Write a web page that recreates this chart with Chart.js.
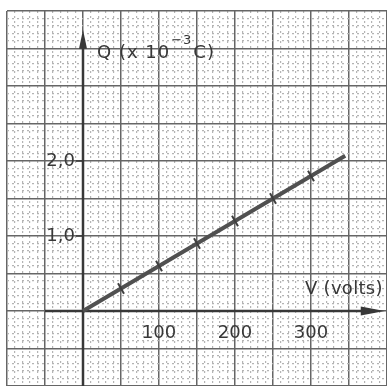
<!DOCTYPE html>
<html>
<head>
<meta charset="utf-8">
<script src="https://cdn.jsdelivr.net/npm/chart.js@4"></script>
<style>
  html, body { margin: 0; padding: 0; background: #fff; }
  canvas { display: block; }
</style>
</head>
<body>
<canvas id="qvChart" width="387" height="386"></canvas>
<script>
// charge vs voltage for a capacitor
const voltage = [0, 50, 100, 150, 200, 250, 300, 345];
const charge = [0, 0.3, 0.6, 0.9, 1.2, 1.5, 1.8, 2.07];
const marked = [false, true, true, true, true, true, true, false];

const xTickLabels = [100, 200, 300];
const yTickLabels = [1.0, 2.0];
const xTitle = 'V (volts)';
const yTitle = 'Q (x 10';
const yTitleExp = '\u22123';
const yTitleUnit = 'C)';

const ink = '#383838';
const font = '18px "DejaVu Sans"';

function gridStyle(isMajor) {
    return {
        color: ctx => isMajor(ctx.tick.value) ? '#666' : '#b4b4b4',
        lineWidth: ctx => isMajor(ctx.tick.value) ? 1.5 : 1.2,
        dash: ctx => isMajor(ctx.tick.value) ? [] : [2, 3]
    };
}

const xMajor = v => Math.round(v) % 50 === 0;
const yMajor = v => Math.round(v * 10) % 5 === 0;
const xg = gridStyle(xMajor);
const yg = gridStyle(yMajor);

// axes with arrow heads, plus the labels sitting on them
const axesPlugin = {
    id: 'axes',
    beforeDatasetsDraw(chart) {
        const { ctx, scales: { x, y }, chartArea } = chart;
        const x0 = x.getPixelForValue(0);
        const y0 = y.getPixelForValue(0);
        ctx.save();
        ctx.strokeStyle = ink;
        ctx.fillStyle = ink;
        ctx.lineWidth = 2.5;

        // vertical axis
        const yTip = y.getPixelForValue(3.75);
        ctx.beginPath();
        ctx.moveTo(x0, chartArea.bottom);
        ctx.lineTo(x0, yTip + 10);
        ctx.stroke();
        ctx.beginPath();
        ctx.moveTo(x0, yTip);
        ctx.lineTo(x0 - 4, yTip + 19);
        ctx.lineTo(x0 + 4, yTip + 19);
        ctx.closePath();
        ctx.fill();

        // horizontal axis
        const xTip = x.getPixelForValue(397);
        ctx.beginPath();
        ctx.moveTo(x.getPixelForValue(-50), y0);
        ctx.lineTo(xTip - 10, y0);
        ctx.stroke();
        ctx.beginPath();
        ctx.moveTo(xTip, y0);
        ctx.lineTo(xTip - 24, y0 - 4.5);
        ctx.lineTo(xTip - 24, y0 + 4.5);
        ctx.closePath();
        ctx.fill();

        // small ticks on the Q axis
        ctx.lineWidth = 1.5;
        yTickLabels.forEach(v => {
            const py = y.getPixelForValue(v);
            ctx.beginPath();
            ctx.moveTo(x0 - 7, py);
            ctx.lineTo(x0, py);
            ctx.stroke();
        });
        ctx.restore();
    },
    afterDraw(chart) {
        const { ctx, scales: { x, y } } = chart;
        const x0 = x.getPixelForValue(0);
        const y0 = y.getPixelForValue(0);
        ctx.save();
        ctx.fillStyle = ink;
        ctx.font = font;
        ctx.textBaseline = 'middle';

        ctx.textAlign = 'right';
        yTickLabels.forEach(v => {
            ctx.fillText(v.toFixed(1).replace('.', ','), x0 - 8, y.getPixelForValue(v));
        });

        ctx.textAlign = 'center';
        xTickLabels.forEach(v => {
            ctx.fillText(String(v), x.getPixelForValue(v), y0 + 22);
        });

        ctx.textAlign = 'left';
        ctx.letterSpacing = '0.3px';
        ctx.fillText(xTitle, x.getPixelForValue(292), y.getPixelForValue(0.29));

        ctx.letterSpacing = '1px';
        let tx = x0 + 14;
        const ty = y.getPixelForValue(3.44);
        ctx.fillText(yTitle, tx, ty);
        tx += ctx.measureText(yTitle).width + 1;
        ctx.font = '13px "DejaVu Sans"';
        ctx.fillText(yTitleExp, tx, ty - 12);
        tx += ctx.measureText(yTitleExp).width + 1;
        ctx.font = font;
        ctx.fillText(yTitleUnit, tx, ty);
        ctx.restore();
    }
};

new Chart(document.getElementById('qvChart'), {
    type: 'line',
    data: {
        datasets: [{
            data: voltage.map((v, i) => ({ x: v, y: charge[i] })),
            borderColor: '#505050',
            borderWidth: 4,
            tension: 0,
            pointStyle: 'line',
            pointRotation: 60,
            pointRadius: marked.map(m => m ? 6 : 0),
            pointBorderColor: '#3f3f3f',
            pointBorderWidth: 2,
            pointBackgroundColor: '#3f3f3f'
        }]
    },
    options: {
        responsive: false,
        animation: false,
        layout: { padding: { left: 7, top: 11, right: 0, bottom: 0 } },
        plugins: { legend: { display: false }, tooltip: { enabled: false } },
        scales: {
            x: {
                type: 'linear',
                min: -100,
                max: 400,
                ticks: { stepSize: 10, display: false },
                grid: { color: xg.color, lineWidth: xg.lineWidth, drawTicks: false },
                border: { display: false, dash: xg.dash },
                afterFit: s => { s.height = 0; }
            },
            y: {
                min: -1,
                max: 4,
                ticks: { stepSize: 0.1, display: false },
                grid: { color: yg.color, lineWidth: yg.lineWidth, drawTicks: false },
                border: { display: false, dash: yg.dash },
                afterFit: s => { s.width = 0; }
            }
        }
    },
    plugins: [axesPlugin]
});
</script>
</body>
</html>
